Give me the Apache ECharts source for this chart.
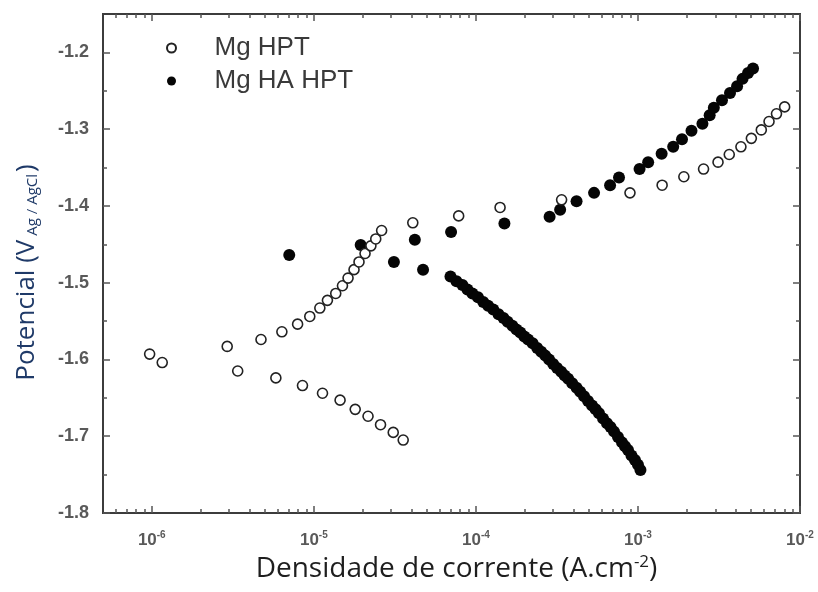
<!DOCTYPE html>
<html>
<head>
<meta charset="utf-8">
<title>Polarização Mg HPT / Mg HA HPT</title>
<script src="https://cdn.jsdelivr.net/npm/echarts@6/dist/echarts.min.js"></script>
<style>
  html, body { margin: 0; padding: 0; background: #fff; }
  #chart { width: 818px; height: 592px; }
</style>
</head>
<body>
<div id="chart"></div>
<script>
// Mg HPT — open circles (current density A/cm², potential V vs Ag/AgCl)
const hptCurrent = [
  3.56e-5, 3.09e-5, 2.58e-5, 2.16e-5, 1.80e-5, 1.452e-5, 1.131e-5, 8.51e-6, 5.83e-6, 3.39e-6,
  1.16e-6, 9.7e-7,
  2.92e-6, 4.72e-6, 6.35e-6, 7.94e-6, 9.44e-6, 1.089e-5, 1.213e-5, 1.365e-5, 1.502e-5, 1.626e-5,
  1.770e-5, 1.90e-5, 2.07e-5, 2.25e-5, 2.41e-5, 2.62e-5, 4.08e-5, 7.83e-5, 1.41e-4, 3.38e-4,
  8.93e-4, 1.41e-3, 1.92e-3, 2.54e-3, 3.12e-3, 3.66e-3, 4.32e-3, 5.01e-3, 5.77e-3, 6.44e-3,
  7.16e-3, 8.04e-3
];
const hptPotential = [
  -1.705, -1.695, -1.685, -1.674, -1.665, -1.653, -1.644, -1.634, -1.624, -1.615,
  -1.604, -1.593,
  -1.583, -1.574, -1.564, -1.554, -1.544, -1.533, -1.523, -1.514, -1.504, -1.494,
  -1.483, -1.473, -1.462, -1.452, -1.443, -1.432, -1.422, -1.413, -1.402, -1.392,
  -1.383, -1.373, -1.362, -1.352, -1.343, -1.333, -1.323, -1.312, -1.301, -1.290,
  -1.280, -1.271
];

// Mg HA HPT — filled circles
const haCurrent = [
  1.036e-3, 1.0e-3, 9.58e-4, 9.12e-4, 8.68e-4, 8.32e-4, 7.97e-4, 7.53e-4, 7.12e-4, 6.77e-4,
  6.44e-4, 6.09e-4, 5.75e-4, 5.48e-4, 5.21e-4, 4.92e-4, 4.65e-4, 4.40e-4, 4.18e-4, 3.93e-4,
  3.71e-4, 3.53e-4, 3.36e-4, 3.17e-4, 3.00e-4, 2.83e-4, 2.68e-4, 2.53e-4, 2.39e-4, 2.24e-4,
  2.10e-4, 1.99e-4, 1.88e-4, 1.78e-4, 1.68e-4, 1.57e-4, 1.48e-4, 1.38e-4, 1.28e-4, 1.19e-4,
  1.11e-4, 1.03e-4, 9.52e-5, 8.87e-5, 8.26e-5, 7.59e-5, 6.97e-5,
  4.72e-5, 3.12e-5, 7.05e-6, 1.945e-5, 4.20e-5, 7.03e-5, 1.50e-4,
  2.85e-4, 3.31e-4, 4.18e-4, 5.36e-4, 6.73e-4, 7.64e-4, 1.023e-3, 1.156e-3, 1.40e-3, 1.65e-3,
  1.87e-3, 2.14e-3, 2.50e-3, 2.77e-3, 2.94e-3, 3.30e-3, 3.70e-3, 4.09e-3, 4.42e-3, 4.78e-3,
  5.13e-3
];
const haPotential = [
  -1.744, -1.737, -1.731, -1.725, -1.718, -1.713, -1.708, -1.701, -1.694, -1.688,
  -1.683, -1.677, -1.670, -1.665, -1.660, -1.654, -1.648, -1.642, -1.637, -1.631,
  -1.625, -1.621, -1.616, -1.611, -1.606, -1.600, -1.595, -1.590, -1.585, -1.579,
  -1.574, -1.570, -1.565, -1.561, -1.556, -1.551, -1.546, -1.541, -1.535, -1.530,
  -1.525, -1.519, -1.514, -1.509, -1.503, -1.498, -1.492,
  -1.483, -1.473, -1.464, -1.451, -1.444, -1.434, -1.423,
  -1.414, -1.405, -1.394, -1.383, -1.373, -1.363, -1.352, -1.343, -1.332, -1.323,
  -1.313, -1.302, -1.293, -1.282, -1.272, -1.2625, -1.253, -1.244, -1.2345, -1.227,
  -1.221
];

// Axis ticks and labels
const xDecades = [1e-6, 1e-5, 1e-4, 1e-3, 1e-2];
const xDecadeExp = ['-6', '-5', '-4', '-3', '-2'];
const xMinor = [];
[1e-7, 1e-6, 1e-5, 1e-4, 1e-3].forEach(function (d) {
  [2, 3, 4, 5, 6, 7, 8, 9].forEach(function (m) {
    const v = +(d * m).toPrecision(3);
    if (v > 5e-7 && v < 1e-2) xMinor.push(v);
  });
});
const yMajor = [-1.8, -1.7, -1.6, -1.5, -1.4, -1.3, -1.2];
const yMinor = [-1.75, -1.65, -1.55, -1.45, -1.35, -1.25];

const X_MIN = 5e-7, X_MAX = 1e-2, Y_MIN = -1.8, Y_MAX = -1.15;

function zip(a, b) { return a.map(function (v, i) { return [v, b[i]]; }); }

const tickColor = '#555';
const labelFont = 'Liberation Sans, Arial, sans-serif';
const titleFont = 'Open Sans, sans-serif';

function xAxisDef(position, values, len, showLabels) {
  const ax = {
    type: 'log', logBase: 10, min: X_MIN, max: X_MAX, position: position,
    axisLine: { show: false },
    splitLine: { show: false },
    axisTick: { show: true, inside: true, length: len, customValues: values,
                lineStyle: { color: tickColor, width: 1.5 } },
    axisLabel: { show: false }
  };
  if (showLabels) {
    ax.axisLabel = {
      show: true, margin: 17, customValues: xDecades,
      formatter: function (v) {
        const idx = xDecades.findIndex(function (d) { return Math.abs(Math.log10(d) - Math.log10(v)) < 1e-6; });
        if (idx < 0) return '';
        return '{b|10}{s|' + xDecadeExp[idx] + '}';
      },
      rich: {
        b: { fontSize: 17, fontWeight: 'bold', color: '#595959', fontFamily: labelFont },
        s: { fontSize: 10, fontWeight: 'bold', color: '#595959', fontFamily: labelFont, padding: [0, 0, 11, 0] }
      }
    };
    ax.name = '{t|Densidade de corrente (A.cm}{s|-2}{t|)}';
    ax.nameLocation = 'middle';
    ax.nameGap = 36;
    ax.nameTextStyle = {
      padding: [0, 0, 0, 10],
      rich: {
        t: { fontSize: 28, color: '#1e1e1e', fontFamily: titleFont },
        s: { fontSize: 17, color: '#1e1e1e', fontFamily: titleFont, padding: [0, 0, 13, 0] }
      }
    };
  }
  return ax;
}

function yAxisDef(position, values, len, showLabels) {
  const ax = {
    type: 'value', min: Y_MIN, max: Y_MAX, position: position,
    axisLine: { show: false },
    splitLine: { show: false },
    axisTick: { show: true, inside: true, length: len, customValues: values,
                lineStyle: { color: tickColor, width: 1.5 } },
    axisLabel: { show: false }
  };
  if (showLabels) {
    ax.axisLabel = {
      show: true, margin: 14, customValues: yMajor,
      fontSize: 18, fontWeight: 'bold', color: '#595959', fontFamily: labelFont,
      formatter: function (v) { return v.toFixed(1); }
    };
    ax.name = '{t|Potencial (V}{s| Ag / AgCl}{t|)}';
    ax.nameLocation = 'middle';
    ax.nameRotate = 90;
    ax.nameGap = 63;
    ax.nameTextStyle = {
      padding: [0, 18, 0, 0],
      rich: {
        t: { fontSize: 26, color: '#1f3a68', fontFamily: titleFont },
        s: { fontSize: 15, color: '#1f3a68', fontFamily: titleFont, padding: [11, 2, 0, 0] }
      }
    };
  }
  return ax;
}

const chart = echarts.init(document.getElementById('chart'), null, { renderer: 'canvas' });

chart.setOption({
  animation: false,
  backgroundColor: '#fff',
  grid: {
    left: 103, right: 18, top: 14, bottom: 79,
    show: true, borderColor: '#3c3c3c', borderWidth: 2, backgroundColor: 'transparent'
  },
  legend: {
    orient: 'vertical',
    left: 161, top: 30,
    itemWidth: 76, itemHeight: 9, itemGap: 7,
    data: ['Mg HPT', 'Mg HA HPT'],
    textStyle: { fontSize: 26, color: '#3a3a3a', fontFamily: labelFont }
  },
  xAxis: [
    xAxisDef('bottom', xDecades, 7, true),
    xAxisDef('bottom', xMinor, 4, false),
    xAxisDef('top', xDecades, 7, false),
    xAxisDef('top', xMinor, 4, false)
  ],
  yAxis: [
    yAxisDef('left', yMajor, 7, true),
    yAxisDef('left', yMinor, 4, false),
    yAxisDef('right', yMajor, 7, false),
    yAxisDef('right', yMinor, 4, false)
  ],
  series: [
    {
      name: 'Mg HA HPT', type: 'scatter', xAxisIndex: 0, yAxisIndex: 0, z: 2,
      symbol: 'circle', symbolSize: 12,
      itemStyle: { color: '#050505', opacity: 1 },
      data: zip(haCurrent, haPotential)
    },
    {
      name: 'Mg HPT', type: 'scatter', xAxisIndex: 0, yAxisIndex: 0, z: 3,
      symbol: 'circle', symbolSize: 10,
      itemStyle: { color: '#ffffff', borderColor: '#222', borderWidth: 1.6, opacity: 1 },
      data: zip(hptCurrent, hptPotential)
    }
  ]
});
</script>
</body>
</html>
